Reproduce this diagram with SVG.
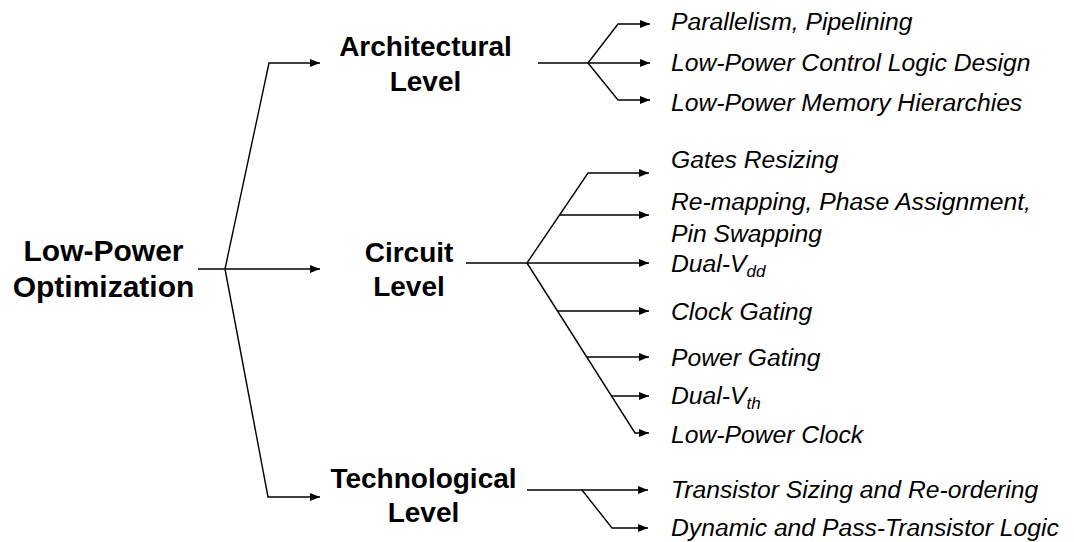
<svg xmlns="http://www.w3.org/2000/svg" width="1074" height="542" viewBox="0 0 1074 542">
<defs>
<style>
.t{font-family:"Liberation Sans",Arial,sans-serif;fill:#000}
.b{font-weight:bold;text-anchor:middle}
.root{font-size:30px}
.lvl{font-size:28px}
.it{font-style:italic;font-size:24.7px}
.sub{font-size:17px}
.c{fill:none;stroke:#000;stroke-width:1.4}
</style>
<marker id="ah" viewBox="0 0 10 8" refX="10" refY="4" markerWidth="10" markerHeight="8" markerUnits="userSpaceOnUse" orient="auto">
<path d="M0,0 L10,4 L0,8 z" fill="#000"/>
</marker>
</defs>
<rect width="1074" height="542" fill="#fff"/>
<g id="connectors">
<path class="c" d="M198,269 H320" marker-end="url(#ah)"/>
<path class="c" d="M225,269 L269,63 H320" marker-end="url(#ah)"/>
<path class="c" d="M225,269 L268,497 H320" marker-end="url(#ah)"/>
<path class="c" d="M538,63 H650" marker-end="url(#ah)"/>
<path class="c" d="M588,63 L618,24 H650" marker-end="url(#ah)"/>
<path class="c" d="M588,63 L618,100 H650" marker-end="url(#ah)"/>
<path class="c" d="M466,263 H649" marker-end="url(#ah)"/>
<path class="c" d="M527,263 L588,173 H649" marker-end="url(#ah)"/>
<path class="c" d="M559,215 H649" marker-end="url(#ah)"/>
<path class="c" d="M527,263 L635,433 H649" marker-end="url(#ah)"/>
<path class="c" d="M557.5,311 H649" marker-end="url(#ah)"/>
<path class="c" d="M587,357 H649" marker-end="url(#ah)"/>
<path class="c" d="M611.5,396 H649" marker-end="url(#ah)"/>
<path class="c" d="M527,490 H648" marker-end="url(#ah)"/>
<path class="c" d="M582,490 L612,528 H648" marker-end="url(#ah)"/>
</g>
<g id="root">
<text class="t b root" x="103.5" y="261">Low-Power</text>
<text class="t b root" x="103.5" y="297">Optimization</text>
</g>
<g id="arch">
<text class="t b lvl" x="425.5" y="56">Architectural</text>
<text class="t b lvl" x="425.5" y="91">Level</text>
</g>
<g id="circuit">
<text class="t b lvl" x="409" y="262">Circuit</text>
<text class="t b lvl" x="409" y="296">Level</text>
</g>
<g id="tech">
<text class="t b lvl" x="423.5" y="488">Technological</text>
<text class="t b lvl" x="423.5" y="522">Level</text>
</g>
<g id="arch-items">
<text class="t it" x="671" y="30">Parallelism, Pipelining</text>
<text class="t it" x="671" y="71">Low-Power Control Logic Design</text>
<text class="t it" x="671" y="111">Low-Power Memory Hierarchies</text>
</g>
<g id="circuit-items">
<text class="t it" x="671" y="168">Gates Resizing</text>
<text class="t it" x="671" y="210">Re-mapping, Phase Assignment,</text>
<text class="t it" x="671" y="242">Pin Swapping</text>
<text class="t it" x="671" y="272">Dual-V<tspan class="sub" dy="5">dd</tspan></text>
<text class="t it" x="671" y="320">Clock Gating</text>
<text class="t it" x="671" y="366">Power Gating</text>
<text class="t it" x="671" y="404">Dual-V<tspan class="sub" dy="5">th</tspan></text>
<text class="t it" x="671" y="443">Low-Power Clock</text>
</g>
<g id="tech-items">
<text class="t it" x="671" y="498">Transistor Sizing and Re-ordering</text>
<text class="t it" x="671" y="536">Dynamic and Pass-Transistor Logic</text>
</g>
</svg>
